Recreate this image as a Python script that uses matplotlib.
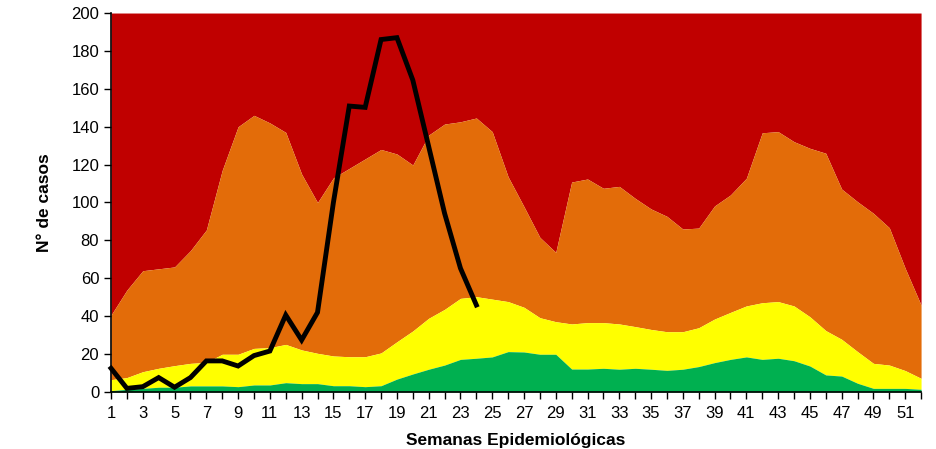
import matplotlib.pyplot as plt
import numpy as np

# endemic channel limits (upper boundary of each zone), weeks 1-52
weeks = list(range(1, 53))
exito = [0.7, 1.4, 1.9, 2.5, 2.5, 3.2, 3.2, 3.2, 2.8, 3.7, 3.7, 4.9, 4.4, 4.4, 3.3, 3.3, 2.8, 3.3, 6.8,
         9.5, 12, 14.2, 17.2, 17.8, 18.5, 21.3, 21.1, 19.9, 19.9, 12.1, 12.1, 12.5, 12, 12.5, 12, 11.4,
         12, 13.4, 15.5, 17.2, 18.5, 17.2, 17.8, 16.5, 13.7, 9, 8.4, 4.6, 1.9, 1.9, 1.9, 1.4]
seguridad = [6.5, 7.6, 10.7, 12.5, 13.9, 15.1, 15.6, 19.9, 19.9, 23, 23.4, 25.1, 22.2, 20.4, 19, 18.6, 18.6,
             20.6, 26.5, 32.2, 38.9, 43.6, 49.4, 50.3, 49, 47.7, 44.7, 39.2, 37.1, 35.9, 36.6, 36.6, 35.9,
             34.5, 33, 31.8, 31.8, 33.9, 38.5, 42, 45.4, 47.1, 47.7, 45.4, 39.7, 32.4, 27.8, 21.3, 15.1,
             14.2, 11.3, 7.2]
alerta = [40.6, 53.8, 64, 65, 66, 74.6, 85.5, 117, 140, 146, 142, 137, 115, 100, 113, 118, 123, 128, 125.6,
          119.8, 135.6, 141.4, 142.6, 144.6, 137.4, 113.6, 97.8, 81.6, 73.7, 110.8, 112.4, 107.5, 108.5,
          102.2, 96.6, 92.7, 86, 86.5, 98.2, 104, 112.8, 136.8, 137.4, 132.1, 128.6, 126, 107.1, 100.4,
          94.3, 86.7, 65.3, 45.9]
epidemia = 200

# cases observed (weeks 1-24)
semanas_casos = list(range(1, 25))
casos = [12.5, 1.9, 2.8, 7.6, 2.5, 7.6, 16.4, 16.4, 13.7, 19.2, 21.6, 40.6, 27.4, 42, 100, 150.9, 150.2,
         186, 187, 164.6, 129.5, 94.3, 65.3, 45.9]

xticks = list(range(1, 53, 2))
yticks = list(range(0, 201, 20))

plt.rcParams['font.family'] = ['Liberation Sans', 'DejaVu Sans']

fig = plt.figure(figsize=(9.37, 4.49), dpi=100)
ax = fig.add_axes([0.1185, 0.127, 0.8645, 0.844])

ax.fill_between(weeks, alerta, epidemia, color='#C00000', lw=0)
ax.fill_between(weeks, seguridad, alerta, color='#E36C09', lw=0)
ax.fill_between(weeks, exito, seguridad, color='#FFFF00', lw=0)
ax.fill_between(weeks, 0, exito, color='#00B050', lw=0)
ax.plot(semanas_casos, casos, color='black', lw=3.5, solid_joinstyle='miter', clip_on=False, zorder=5)

ax.set_xlim(1, 52)
ax.set_ylim(0, 200)
ax.set_xticks(weeks, minor=True)
ax.set_xticks(xticks)
ax.set_yticks(yticks)
ax.tick_params(axis='x', which='both', length=5, width=1, labelsize=12, pad=5)
ax.tick_params(axis='y', length=5, width=1, labelsize=12)
for s in ['top', 'right']:
    ax.spines[s].set_visible(False)
for s in ['left', 'bottom']:
    ax.spines[s].set_linewidth(1.2)

ax.set_xlabel('Semanas Epidemiológicas', fontsize=12.5, fontweight='bold', labelpad=9)
ax.set_ylabel('N° de casos', fontsize=12.5, fontweight='bold', labelpad=14)

plt.savefig('out.png', dpi=100)
